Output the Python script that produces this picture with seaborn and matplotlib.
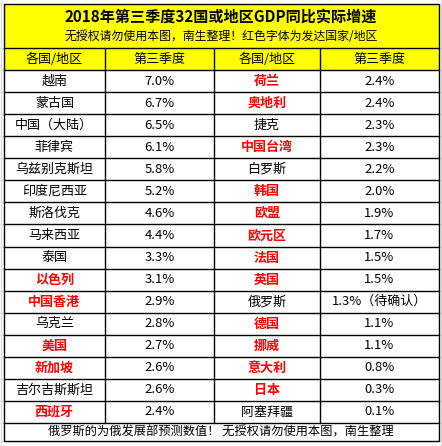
import matplotlib
matplotlib.use("Agg")
import matplotlib.pyplot as plt
from matplotlib.patches import Rectangle
import seaborn as sns

sns.set_theme(style="white")
plt.rcParams['font.family'] = ['Noto Sans CJK SC', 'DejaVu Sans']

title = "2018年第三季度32国或地区GDP同比实际增速"
subtitle = "无授权请勿使用本图，南生整理！红色字体为发达国家/地区"
headers = ["各国/地区", "第三季度", "各国/地区", "第三季度"]
footer = "俄罗斯的为俄发展部预测数值！ 无授权请勿使用本图，南生整理"

left_names = ["越南", "蒙古国", "中国（大陆）", "菲律宾", "乌兹别克斯坦", "印度尼西亚",
              "斯洛伐克", "马来西亚", "泰国", "以色列", "中国香港", "乌克兰", "美国",
              "新加坡", "吉尔吉斯斯坦", "西班牙"]
left_values = ["7.0%", "6.7%", "6.5%", "6.1%", "5.8%", "5.2%", "4.6%", "4.4%", "3.3%",
               "3.1%", "2.9%", "2.8%", "2.7%", "2.6%", "2.6%", "2.4%"]
left_developed = [0, 0, 0, 0, 0, 0, 0, 0, 0, 1, 1, 0, 1, 1, 0, 1]

right_names = ["荷兰", "奥地利", "捷克", "中国台湾", "白罗斯", "韩国", "欧盟", "欧元区",
               "法国", "英国", "俄罗斯", "德国", "挪威", "意大利", "日本", "阿塞拜疆"]
right_values = ["2.4%", "2.4%", "2.3%", "2.3%", "2.2%", "2.0%", "1.9%", "1.7%", "1.5%",
                "1.5%", "1.3%（待确认）", "1.1%", "1.1%", "0.8%", "0.3%", "0.1%"]
right_developed = [1, 1, 0, 1, 0, 1, 1, 1, 1, 1, 0, 1, 1, 1, 1, 0]

W, H = 442, 446
fig = plt.figure(figsize=(W / 100, H / 100), dpi=100)
ax = fig.add_axes([0, 0, 1, 1])
ax.set_xlim(0, W)
ax.set_ylim(H, 0)
ax.axis("off")
fig.patch.set_facecolor("white")

# layout
x_cols = [3.5, 105, 214, 320, 438.5]
y_top = 4
y_head = 48
y_data = 70
n_rows = len(left_names)
row_h = (423 - y_data) / n_rows
y_foot = y_data + n_rows * row_h
y_bot = 441

YELLOW = "#FFFF00"
RED = "#FF0000"

# faint spreadsheet gridlines outside the table
grid_c = "#D9D9D9"
for yy in [y_head, y_data] + [y_data + i * row_h for i in range(1, n_rows + 1)] + [y_bot]:
    ax.plot([0, W], [yy, yy], color=grid_c, lw=0.8, zorder=0)
for xx in [1, 441]:
    ax.plot([xx, xx], [0, H], color=grid_c, lw=0.8, zorder=0)

# backgrounds
ax.add_patch(Rectangle((x_cols[0], y_top), x_cols[-1] - x_cols[0], y_data - y_top,
                       facecolor=YELLOW, edgecolor="none", zorder=1))
ax.add_patch(Rectangle((x_cols[0], y_data), x_cols[-1] - x_cols[0], y_bot - y_data,
                       facecolor="white", edgecolor="none", zorder=1))

lw = 1.0
k = "black"
# outer border
ax.plot([x_cols[0], x_cols[-1], x_cols[-1], x_cols[0], x_cols[0]],
        [y_top, y_top, y_bot, y_bot, y_top], color=k, lw=lw, zorder=3)
# horizontal lines
for yy in [y_head, y_data] + [y_data + i * row_h for i in range(1, n_rows + 1)]:
    ax.plot([x_cols[0], x_cols[-1]], [yy, yy], color=k, lw=lw, zorder=3)
# vertical lines
for xx in x_cols[1:-1]:
    ax.plot([xx, xx], [y_head, y_foot], color=k, lw=lw, zorder=3)

# texts
cx = (x_cols[0] + x_cols[-1]) / 2
ax.text(cx, 16.5, title, ha="center", va="center", fontsize=10.9, fontweight="bold",
        color="black", zorder=4)
ax.text(cx, 36.5, subtitle, ha="center", va="center", fontsize=8.6, color="black", zorder=4)

fs = 9.4
for j, h in enumerate(headers):
    ax.text((x_cols[j] + x_cols[j + 1]) / 2, (y_head + y_data) / 2, h, ha="center",
            va="center", fontsize=fs, color="black", zorder=4)

for i in range(n_rows):
    yc = y_data + (i + 0.5) * row_h
    for names, vals, dev, c0 in [(left_names, left_values, left_developed, 0),
                                  (right_names, right_values, right_developed, 2)]:
        red = dev[i] == 1
        ax.text((x_cols[c0] + x_cols[c0 + 1]) / 2, yc, names[i], ha="center", va="center",
                fontsize=fs, color=RED if red else "black",
                fontweight="bold" if red else "normal", zorder=4)
        ax.text((x_cols[c0 + 1] + x_cols[c0 + 2]) / 2, yc, vals[i], ha="center", va="center",
                fontsize=fs, color="black", zorder=4)

ax.text(cx, (y_foot + y_bot) / 2, footer, ha="center", va="center", fontsize=8.8,
        color="black", zorder=4)

fig.savefig("out.png", dpi=100, facecolor="white")
